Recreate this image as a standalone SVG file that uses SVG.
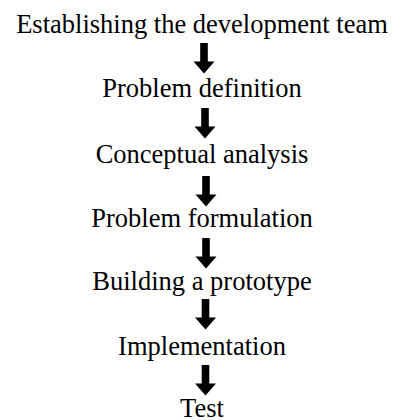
<svg xmlns="http://www.w3.org/2000/svg" xmlns:xlink="http://www.w3.org/1999/xlink" width="395" height="420" viewBox="0 0 395 420">
  <style>
    .step { font-family: "Liberation Serif", "Times New Roman", serif; font-size: 26.5px; fill: #000; text-anchor: middle; }
    .flow { fill: #000; }
  </style>
  <defs>
    <!-- thick block arrow pointing down, origin at top centre of the shaft -->
    <path id="down-arrow" d="M-3.8,0 H3.8 V18.5 H10.5 L0,30.5 L-10.5,18.5 H-3.8 Z"/>
  </defs>

  <rect width="395" height="420" fill="#fff"/>

  <g id="connectors" class="flow">
    <use xlink:href="#down-arrow" transform="translate(204,43)"/>
    <use xlink:href="#down-arrow" transform="translate(205,108)"/>
    <use xlink:href="#down-arrow" transform="translate(206,176)"/>
    <use xlink:href="#down-arrow" transform="translate(206,238)"/>
    <use xlink:href="#down-arrow" transform="translate(205.5,299)"/>
    <use xlink:href="#down-arrow" transform="translate(205.5,365)"/>
  </g>

  <g id="team"><text class="step" x="202" y="33">Establishing the development team</text></g>
  <g id="definition"><text class="step" x="202" y="97">Problem definition</text></g>
  <g id="analysis"><text class="step" x="202" y="162.5">Conceptual analysis</text></g>
  <g id="formulation"><text class="step" x="202" y="227">Problem formulation</text></g>
  <g id="prototype"><text class="step" x="202" y="289.5">Building a prototype</text></g>
  <g id="implementation"><text class="step" x="202" y="354.5">Implementation</text></g>
  <g id="test"><text class="step" x="202" y="416.5">Test</text></g>
</svg>
